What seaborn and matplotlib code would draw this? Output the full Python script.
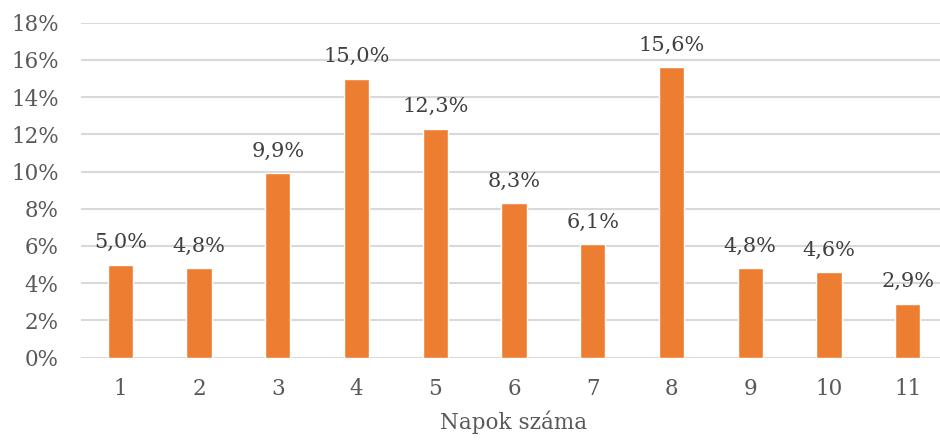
import matplotlib
matplotlib.use("Agg")
import matplotlib.pyplot as plt
import seaborn as sns
import pandas as pd

days = ["1", "2", "3", "4", "5", "6", "7", "8", "9", "10", "11"]
shares = [5.0, 4.8, 9.9, 15.0, 12.3, 8.3, 6.1, 15.6, 4.8, 4.6, 2.9]
y_ticks = [0, 2, 4, 6, 8, 10, 12, 14, 16, 18]
x_title = "Napok száma"

sns.set_theme(style="white")
plt.rcParams['font.family'] = ['DejaVu Serif']
text_color = "#595959"

df = pd.DataFrame({"day": days, "share": shares})

fig = plt.figure(figsize=(9.4, 4.41), dpi=100)
ax = fig.add_axes([81/940, 1 - 357.5/441, (947 - 81)/940, (357.5 - 22.7)/441])

sns.barplot(data=df, x="day", y="share", color="#ED7D31", width=0.32,
            saturation=1, ax=ax, zorder=3)

ax.set_ylim(0, 18)
ax.set_xlim(-0.5, 10.5)
ax.set_yticks(y_ticks)
ax.set_yticklabels([f"{t}%" for t in y_ticks])
ax.yaxis.grid(True, color="#d9d9d9", linewidth=1.5, zorder=0)
ax.set_axisbelow(True)
for s in ax.spines.values():
    s.set_visible(False)
ax.tick_params(axis="both", length=0, labelsize=15.5, colors=text_color)
ax.tick_params(axis="y", pad=16)
ax.tick_params(axis="x", pad=15)
ax.set_ylabel("")
ax.set_xlabel(x_title, fontsize=15.5, color=text_color, labelpad=7)

for i, v in enumerate(shares):
    ax.annotate(f"{v:.1f}%".replace(".", ","), (i, v), xytext=(0, 9),
                textcoords="offset points", ha="center", va="bottom",
                fontsize=15, color="#404040")

fig.savefig("out.png", dpi=100)
